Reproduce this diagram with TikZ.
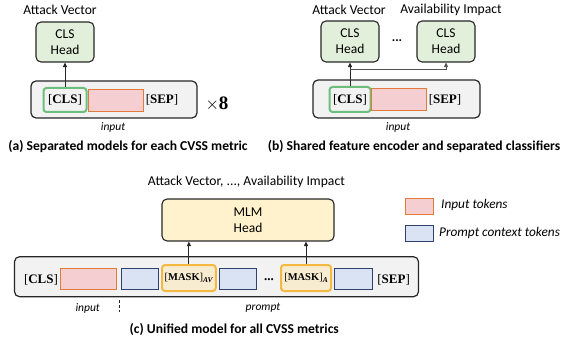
\documentclass[tikz,border=0pt]{standalone}
\usepackage{fontspec}
\setmainfont{Liberation Serif}
\setsansfont{Carlito}
\usetikzlibrary{arrows.meta}
\definecolor{headgreen}{RGB}{226,239,218}
\definecolor{clsgreen}{RGB}{108,190,122}
\definecolor{outerfill}{RGB}{242,242,242}
\definecolor{darkline}{RGB}{38,38,38}
\definecolor{pinkfill}{RGB}{244,206,208}
\definecolor{pinkline}{RGB}{224,123,57}
\definecolor{bluefill}{RGB}{218,227,243}
\definecolor{blueline}{RGB}{47,66,110}
\definecolor{mlmfill}{RGB}{255,242,204}
\definecolor{maskfill}{RGB}{248,236,208}
\definecolor{maskline}{RGB}{244,185,66}
\tikzset{
  lbl/.style={font=\sffamily\fontsize{13.6}{15}\selectfont, inner sep=0pt},
  captxt/.style={font=\sffamily\bfseries\fontsize{13.6}{15}\selectfont, inner sep=0pt},
  smallit/.style={font=\sffamily\itshape\fontsize{11.5}{13}\selectfont, inner sep=0pt},
  legtxt/.style={font=\sffamily\itshape\fontsize{13.3}{15}\selectfont, inner sep=0pt, anchor=west},
  tok/.style={font=\fontsize{13}{14}\selectfont, inner sep=0pt},
  headbox/.style={draw=darkline, line width=1.1pt, rounded corners=5pt, fill=headgreen, align=center,
    font=\sffamily\fontsize{13.5}{16}\selectfont, inner sep=0pt},
  outerbox/.style={draw=darkline, line width=1.2pt, rounded corners=5pt, fill=outerfill, inner sep=0pt},
  clsbox/.style={draw=clsgreen, line width=2pt, rounded corners=3pt, fill=outerfill, inner sep=0pt,
    font=\fontsize{13}{14}\selectfont},
  pinkbox/.style={draw=pinkline, line width=0.9pt, fill=pinkfill, inner sep=0pt},
  bluebox/.style={draw=blueline, line width=0.9pt, fill=bluefill, inner sep=0pt},
  maskbox/.style={draw=maskline, line width=2pt, rounded corners=3pt, fill=maskfill, inner sep=0pt,
    font=\fontsize{10.5}{12}\selectfont},
  mlmbox/.style={draw=darkline, line width=1.1pt, rounded corners=5pt, fill=mlmfill, align=center,
    font=\sffamily\fontsize{13.5}{16}\selectfont, inner sep=0pt},
  arr/.style={-{Triangle[length=4.5pt,width=4pt]}, line width=0.9pt, draw=darkline},
  box/.style n args={2}{minimum width=#1, minimum height=#2}
}
\newcommand{\tk}[1]{[\textbf{#1}]}
\newcommand{\subtk}[1]{\raisebox{-2.5pt}{\fontsize{7.5}{8}\selectfont\textbf{\textit{#1}}}}
\begin{document}
\begin{tikzpicture}[x=1pt,y=-1pt]
\useasboundingbox (0,0) rectangle (561,344);
% ---------- (a) ----------
\node[lbl] (avA) at (60,10) {Attack Vector};
\node[headbox, box={58pt}{40pt}] (headA) at (65,42) {CLS\\Head};
\node[outerbox, box={166pt}{37pt}] (outerA) at (114,99.5) {};
\node[clsbox, box={43pt}{24pt}] (clsA) at (65,100) {\tk{CLS}};
\node[pinkbox, box={55pt}{22pt}] (pinkA) at (115.5,100) {};
\node[tok] (sepA) at (162,100) {\tk{SEP}};
\node[font=\bfseries\fontsize{19}{21}\selectfont, inner sep=0pt] (times) at (217,104) {$\times$8};
\node[smallit] (inA) at (113,127) {input};
\node[captxt] (capA) at (128,147) {(a) Separated models for each CVSS metric};
\draw[arr] (clsA.north) -- (headA.south);
% ---------- (b) ----------
\node[lbl] (avB) at (349,10) {Attack Vector};
\node[lbl] (aiB) at (451,10) {Availability Impact};
\node[headbox, box={58pt}{41pt}] (headB1) at (350,41.5) {CLS\\Head};
\node[headbox, box={58pt}{41pt}] (headB2) at (446,41.5) {CLS\\Head};
\node[font=\sffamily\bfseries\fontsize{13}{14}\selectfont, inner sep=0pt] (dotsB) at (397,41) {...};
\node[outerbox, box={167pt}{38pt}] (outerB) at (396.5,99) {};
\node[clsbox, box={41pt}{25pt}] (clsB) at (350,99.5) {\tk{CLS}};
\node[pinkbox, box={55pt}{22pt}] (pinkB) at (398.5,99) {};
\node[tok] (sepB) at (445,100) {\tk{SEP}};
\node[smallit] (inB) at (398,127) {input};
\node[captxt] (capB) at (414,147) {(b) Shared feature encoder and separated classifiers};
\coordinate (brB) at (350,69);
\draw[arr] (clsB.north) -- (headB1.south);
\draw[arr, line width=0.6pt, draw=darkline!80] (brB) -- (brB -| headB2.south) -- (headB2.south);
% ---------- (c) ----------
\node[lbl] (titleC) at (246.4,182) {Attack Vector, ..., Availability Impact};
\node[mlmbox, box={172pt}{42pt}] (mlm) at (248,220) {MLM\\Head};
\node[outerbox, box={404pt}{40pt}] (outerC) at (216.5,276.7) {};
\node[tok] (clsC) at (41,280) {\tk{CLS}};
\node[pinkbox, box={56pt}{21pt}] (pinkC) at (88.9,278.5) {};
\node[bluebox, box={37.5pt}{21pt}] (blue1) at (139.75,278.5) {};
\node[maskbox, box={53.7pt}{26pt}] (maskAV) at (188.9,278) {[\textbf{MASK}]\subtk{AV}};
\node[bluebox, box={37.5pt}{21pt}] (blue2) at (238.1,278.5) {};
\node[font=\bfseries\fontsize{13}{14}\selectfont, inner sep=0pt] (dotsC) at (269,280) {...};
\node[maskbox, box={50pt}{26pt}] (maskA) at (306,278) {[\textbf{MASK}]\subtk{A}};
\node[bluebox, box={37.5pt}{21pt}] (blue3) at (353.3,278.5) {};
\node[tok] (sepC) at (393.6,280) {\tk{SEP}};
\draw[arr] (maskAV.north) -- (maskAV.north |- mlm.south);
\draw[arr] (maskA.north) -- (maskA.north |- mlm.south);
\node[smallit] (inC) at (87.7,308) {input};
\node[smallit] (prC) at (263,308) {prompt};
\coordinate (dashTop) at (119.9,300);
\coordinate (dashBot) at (119.9,312);
\draw[darkline, line width=1pt, dash pattern=on 3pt off 2pt] (dashTop) -- (dashBot);
\node[captxt] (capC) at (234.3,329) {(c) Unified model for all CVSS metrics};
% legend
\node[pinkbox, box={28pt}{16pt}] (legP) at (419,206) {};
\node[legtxt] (legPt) at (441,205) {Input tokens};
\node[bluebox, box={28pt}{16pt}] (legB) at (419,233) {};
\node[legtxt] (legBt) at (439,233) {Prompt context tokens};
\end{tikzpicture}
\end{document}
